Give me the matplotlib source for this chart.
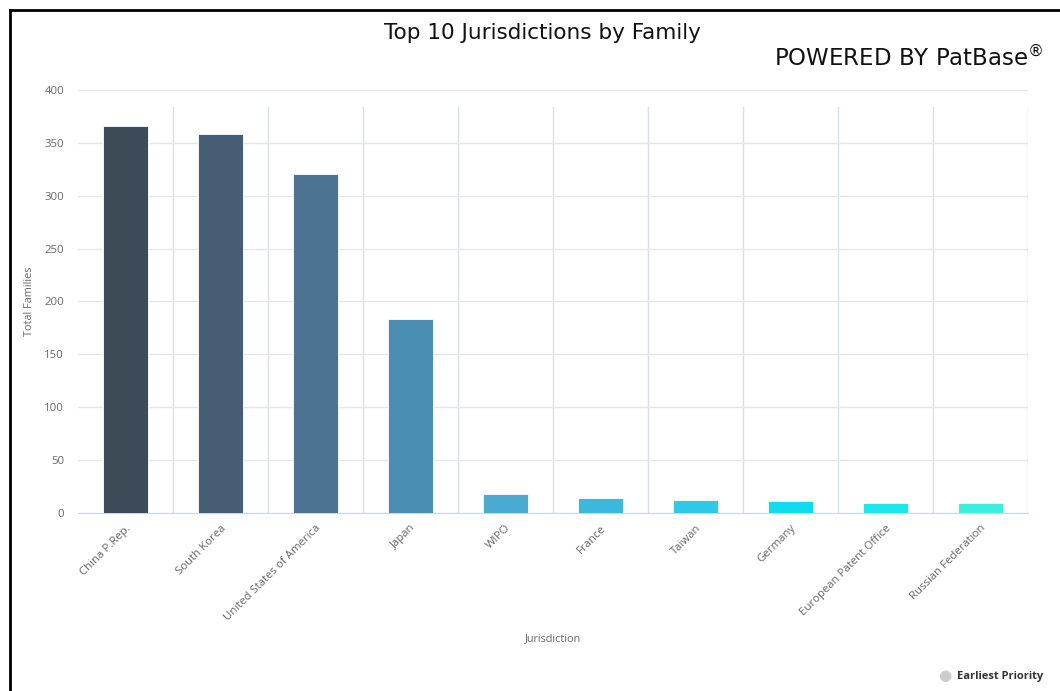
import matplotlib.pyplot as plt
from matplotlib.lines import Line2D

jurisdictions = ["China P.Rep.", "South Korea", "United States of America", "Japan", "WIPO",
                 "France", "Taiwan", "Germany", "European Patent Office", "Russian Federation"]
families = [366, 358, 321, 183, 18, 14, 12, 11, 9, 9]
bar_colors = ["#3d4a58", "#465d74", "#4c7391", "#4a8fb3", "#48a9d1",
              "#3bb8dd", "#2ec9e8", "#10dcf0", "#1ae6ec", "#3aeee0"]
y_ticks = [0, 50, 100, 150, 200, 250, 300, 350, 400]

plt.rcParams['font.family'] = ['Open Sans', 'DejaVu Sans']

fig = plt.figure(figsize=(10.6, 6.91), dpi=100)
ax = fig.add_axes([0.0736, 0.2576, 0.8962, 0.6122])

x = list(range(len(jurisdictions)))
ax.bar(x, families, width=0.48, color=bar_colors, edgecolor="white", linewidth=0.6, zorder=3)

ax.set_xlim(-0.5, len(jurisdictions) - 0.5)
ax.set_ylim(0, 400)
ax.set_yticks(y_ticks)
ax.yaxis.grid(True, color="#e6e6e6", linewidth=1, zorder=0)
for b in range(len(jurisdictions)):
    ax.axvline(b + 0.5, ymax=0.96, color="#d8dfea", linewidth=1, zorder=1)

for s in ["top", "right", "left"]:
    ax.spines[s].set_visible(False)
ax.spines["bottom"].set_color("#ccd6eb")
ax.tick_params(axis="both", length=0, colors="#666666", labelsize=8.2)
ax.tick_params(axis="y", pad=10)
ax.tick_params(axis="x", pad=7)
ax.set_xticks(x)
ax.set_xticklabels(jurisdictions, rotation=45, ha="right", rotation_mode="anchor")

ax.set_ylabel("Total Families", fontsize=7.8, color="#666666")
ax.yaxis.set_label_coords(-0.045, 0.5)
ax.set_xlabel("Jurisdiction", fontsize=7.8, color="#666666")
ax.xaxis.set_label_coords(0.5, -0.285)

fig.text(0.512, 0.952, "Top 10 Jurisdictions by Family", ha="center", va="center",
         fontsize=15.5, color="#111111", family=["Liberation Sans Narrow", "DejaVu Sans"])
fig.text(0.984, 0.915, "POWERED BY PatBase$^{®}$", ha="right", va="center",
         fontsize=16.5, color="#111111", family=["Liberation Sans Narrow", "DejaVu Sans"])

# legend
fig.text(0.891, 0.021, "\u25cf", ha="center", va="center", fontsize=11, color="#cccccc")
fig.text(0.903, 0.021, "Earliest Priority", ha="left", va="center",
         fontsize=8, fontweight="bold", color="#333333")

# frame
fig.add_artist(Line2D([0.0095, 0.0095], [0, 0.985], transform=fig.transFigure, color="black", linewidth=2))
fig.add_artist(Line2D([0.0095, 1.0], [0.985, 0.985], transform=fig.transFigure, color="black", linewidth=2))

fig.savefig("out.png", dpi=100)
